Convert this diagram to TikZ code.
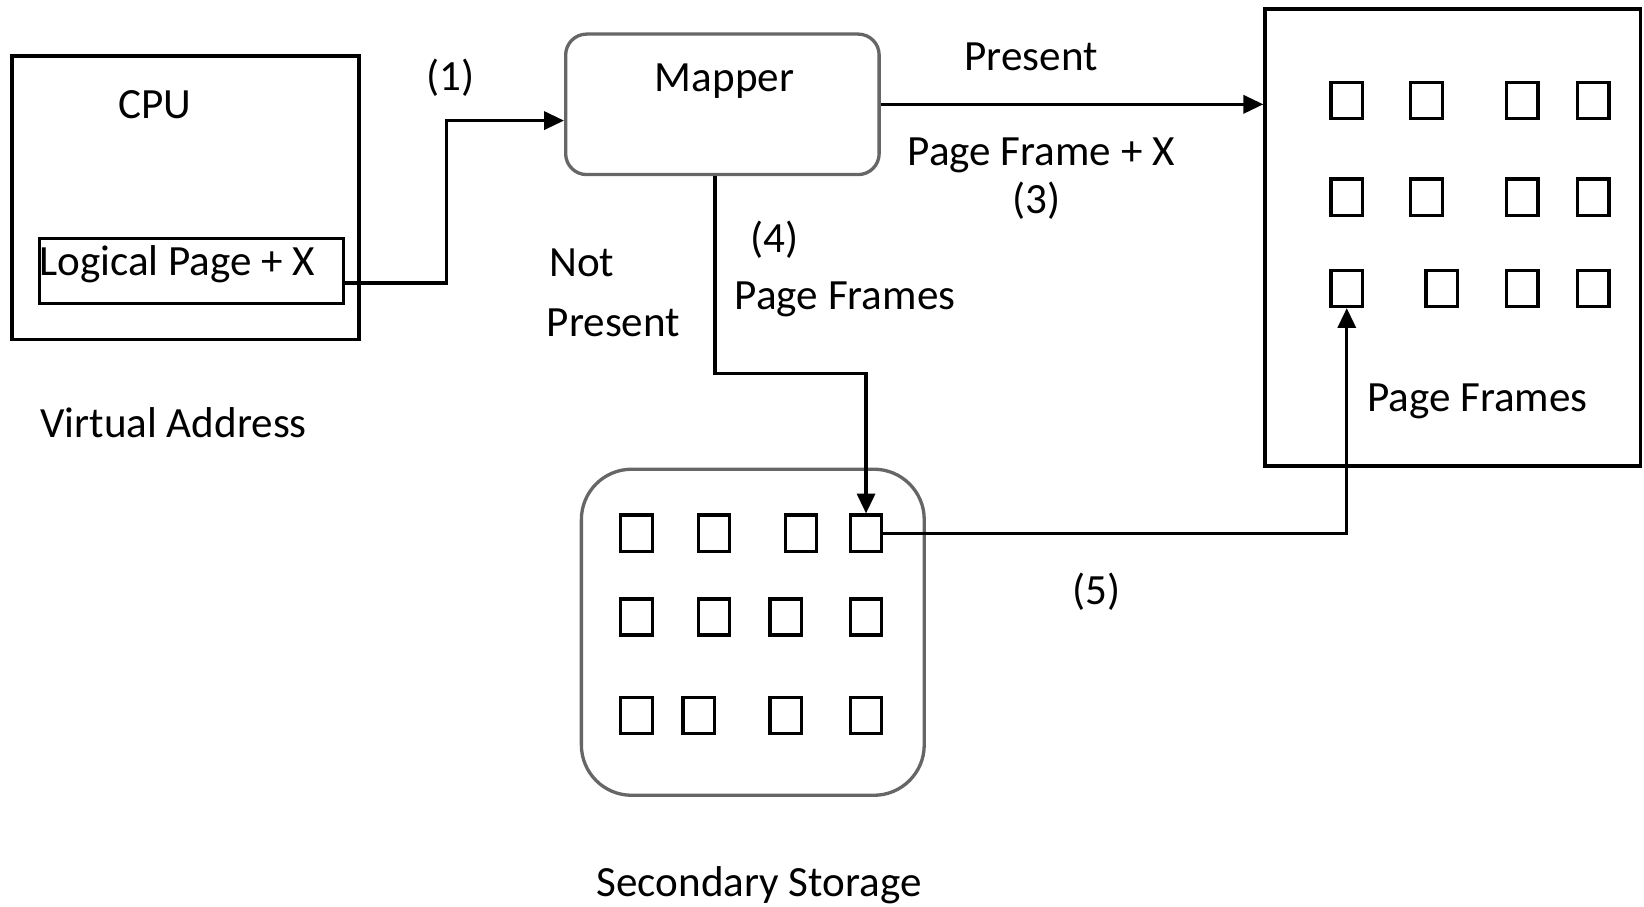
\documentclass[tikz,border=0pt]{standalone}
\usepackage{fontspec}
\setmainfont{Carlito}
\usepackage{tikz}
\usetikzlibrary{arrows.meta,positioning}

\begin{document}
\begin{tikzpicture}[
    lbl/.style={font=\fontsize{11.7pt}{14pt}\selectfont, inner sep=0pt, anchor=base},
    frame/.style={rectangle, draw, line width=0.9pt, inner sep=0pt},
    roundbox/.style={rectangle, draw=black!60, line width=0.9pt, inner sep=0pt},
    slot/.style={rectangle, draw, line width=0.9pt, minimum width=0.30cm, minimum height=0.345cm, inner sep=0pt},
    arrow/.style={-{Triangle[length=5.4pt,width=4.9pt]}, line width=0.9pt}
]
\useasboundingbox (0,0) rectangle (15.68,-8.65);

% CPU side
\node[frame, minimum width=2.90cm, minimum height=0.62cm, text height=0.25cm, text depth=0.16cm,
      font=\fontsize{11.7pt}{14pt}\selectfont] (logical) at (1.825,-2.585) {Logical Page + X\hspace*{0.27cm}};
\node[frame, minimum width=3.31cm, minimum height=2.70cm] (cpu) at (1.77,-1.885) {};
\node[lbl] (cputxt) at (1.48,-1.13) {CPU};
\node[lbl] (virt) at (1.655,-4.17) {Virtual Address};

% Mapper
\node[roundbox, rounded corners=0.2cm, minimum width=2.99cm, minimum height=1.34cm] (mapper) at (6.89,-0.995) {};
\node[lbl] (mappertxt) at (6.91,-0.875) {Mapper};

% Main memory
\node[frame, minimum width=3.58cm, minimum height=4.36cm] (frames) at (13.855,-2.265) {};
\node[slot] (pf1) at (12.845,-0.96) {};
\node[slot] (pf2) at (13.605,-0.96) {};
\node[slot] (pf3) at (14.52,-0.96) {};
\node[slot] (pf4) at (15.195,-0.96) {};
\node[slot] (pf5) at (12.845,-1.88) {};
\node[slot] (pf6) at (13.605,-1.88) {};
\node[slot] (pf7) at (14.52,-1.88) {};
\node[slot] (pf8) at (15.195,-1.88) {};
\node[slot] (pf9) at (12.845,-2.75) {};
\node[slot] (pf10) at (13.75,-2.75) {};
\node[slot] (pf11) at (14.52,-2.75) {};
\node[slot] (pf12) at (15.195,-2.75) {};
\node[lbl] (frameslbl) at (14.09,-3.926) {Page Frames};

% Secondary storage
\node[roundbox, rounded corners=0.48cm, minimum width=3.27cm, minimum height=3.11cm] (storage) at (7.18,-6.03) {};
\node[slot] (ss1) at (6.07,-5.085) {};
\node[slot] (ss2) at (6.81,-5.085) {};
\node[slot] (ss3) at (7.64,-5.085) {};
\node[slot] (ss4) at (8.26,-5.085) {};
\node[slot] (ss5) at (6.07,-5.885) {};
\node[slot] (ss6) at (6.81,-5.885) {};
\node[slot] (ss7) at (7.495,-5.885) {};
\node[slot] (ss8) at (8.26,-5.885) {};
\node[slot] (ss9) at (6.07,-6.825) {};
\node[slot] (ss10) at (6.665,-6.825) {};
\node[slot] (ss11) at (7.495,-6.825) {};
\node[slot] (ss12) at (8.26,-6.825) {};
\node[lbl] (storelbl) at (7.24,-8.55) {Secondary Storage};

% Labels on the connectors
\node[lbl] (lbl1) at (4.30,-0.865) {(1)};
\node[lbl] (present) at (9.835,-0.675) {Present};
\node[lbl] (pfx) at (9.93,-1.58) {Page Frame + X};
\node[lbl] (lbl3) at (9.885,-2.035) {(3)};
\node[lbl] (lbl4) at (7.39,-2.41) {(4)};
\node[lbl] (pflbl) at (8.06,-2.95) {Page Frames};
\node[lbl] (notlbl) at (5.55,-2.64) {Not};
\node[lbl] (notlbl2) at (5.85,-3.21) {Present};
\node[lbl] (lbl5) at (10.46,-5.77) {(5)};

% Connectors
\draw[arrow] ([yshift=-1.15mm]logical.east) -- ++(0.97,0) |- ([yshift=-1.55mm]mapper.west);
\draw[arrow] (mapper.east) -- (mapper.east -| frames.west);
\draw[arrow] ([xshift=-0.7mm]mapper.south) -- ++(0,-1.88) -| (ss4.north);
\draw[arrow] (ss4.east) -| (pf9.south);

\end{tikzpicture}
\end{document}
